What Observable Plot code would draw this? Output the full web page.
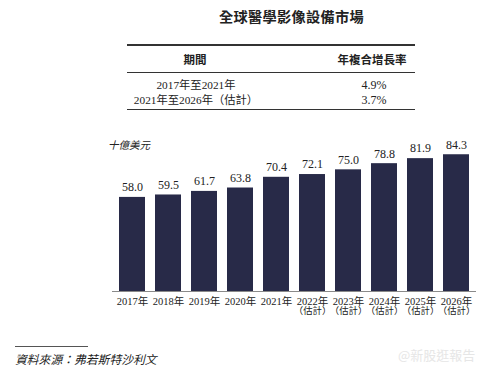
<!DOCTYPE html>
<html>
<head>
<meta charset="utf-8">
<script src="https://cdn.jsdelivr.net/npm/d3@7"></script>
<script src="https://cdn.jsdelivr.net/npm/@observablehq/plot@0.6"></script>
<style>
  body { margin: 0; background: #fff; }
  #root { position: relative; width: 500px; height: 371px; background: #fff; overflow: hidden; color: #222; }
  .abs { position: absolute; white-space: nowrap; }
  .serif { font-family: "Liberation Serif", "Noto Sans CJK TC", serif; }
  .sans { font-family: "Noto Sans CJK TC", "Noto Sans", sans-serif; }
  .hline { position: absolute; background: #333; }
  #chart { position: absolute; left: 0; top: 120px; }
</style>
</head>
<body>
<div id="root">
  <div class="abs sans" id="title" style="left:219px;top:6px;font-size:14.2px;font-weight:700;line-height:20px;letter-spacing:0.3px;">全球醫學影像設備市場</div>
  <div class="hline" style="left:127px;top:44px;width:288px;height:1.5px;"></div>
  <div class="hline" style="left:127px;top:71.5px;width:288px;height:1px;"></div>
  <div class="hline" style="left:127px;top:108.5px;width:288px;height:1.5px;"></div>
  <div id="table"></div>
  <div class="abs sans" style="left:108px;top:137px;font-size:10.5px;font-style:italic;line-height:16px;">十億美元</div>
  <div id="chart"></div>
  <div class="hline" style="left:15px;top:346px;width:73px;height:1px;background:#555;"></div>
  <div class="abs sans" id="source" style="left:15px;top:351px;font-size:11.8px;font-style:italic;line-height:16px;">資料來源：弗若斯特沙利文</div>
  <div class="abs sans" style="left:398px;top:347px;font-size:13px;line-height:16px;color:#e6e6e6;">@新股逛報告</div>
</div>
<script>
// ---- data ----
const years = ["2017", "2018", "2019", "2020", "2021", "2022", "2023", "2024", "2025", "2026"];
const values = [58.0, 59.5, 61.7, 63.8, 70.4, 72.1, 75.0, 78.8, 81.9, 84.3];
const tickLabels = ["2017年", "2018年", "2019年", "2020年", "2021年",
  "2022年\n（估計）", "2023年\n（估計）", "2024年\n（估計）", "2025年\n（估計）", "2026年\n（估計）"];
const tableHeaders = ["期間", "年複合增長率"];
const periods = ["2017年至2021年", "2021年至2026年（估計）"];
const cagr = ["4.9%", "3.7%"];

// ---- table ----
const table = document.getElementById("table");
function cell(text, cx, cy, cls, size, weight) {
  const d = document.createElement("div");
  d.className = "abs " + cls;
  d.style.left = (cx - 100) + "px";
  d.style.width = "200px";
  d.style.textAlign = "center";
  d.style.top = (cy - 8) + "px";
  d.style.lineHeight = "16px";
  d.style.fontSize = size + "px";
  if (weight) d.style.fontWeight = weight;
  d.textContent = text;
  table.appendChild(d);
}
cell(tableHeaders[0], 195, 58.5, "sans", 11.5, 700);
cell(tableHeaders[1], 372, 58.5, "sans", 11.5, 700);
const rowY = [85, 100];
periods.forEach((p, i) => {
  cell(p, 196, rowY[i], "serif", 11.3);
  cell(cagr[i], 374, rowY[i], "serif", 12);
});

// ---- chart ----
const data = years.map((y, i) => ({ year: y, value: values[i] }));
const chart = Plot.plot({
  width: 500,
  height: 210,
  marginLeft: 112,
  marginRight: 24,
  marginTop: 25,
  marginBottom: 39,
  x: {
    domain: years,
    paddingInner: 0.28,
    paddingOuter: 0.14,
    label: null,
    tickSize: 0,
    tickPadding: 6,
    tickFormat: d => tickLabels[years.indexOf(d)]
  },
  y: { domain: [0, 90], axis: null },
  style: {
    fontFamily: "'Liberation Serif', 'Noto Sans CJK TC', serif",
    fontSize: "10.5px",
    color: "#222",
    background: "transparent"
  },
  marks: [
    Plot.barY(data, { x: "year", y: "value", fill: "#282a48" }),
    Plot.ruleY([0], { stroke: "#8a8a8a", strokeWidth: 1 }),
    Plot.text(data, { x: "year", y: "value", text: d => d.value.toFixed(1), dy: -10, fontSize: 12, fill: "#222" })
  ]
});
// make the second line "（估計）" of the tick labels fit within one band
chart.querySelectorAll("tspan").forEach(t => {
  if (t.textContent.startsWith("（")) {
    t.setAttribute("font-size", "9.4px");
  }
});
document.getElementById("chart").appendChild(chart);
</script>
</body>
</html>
